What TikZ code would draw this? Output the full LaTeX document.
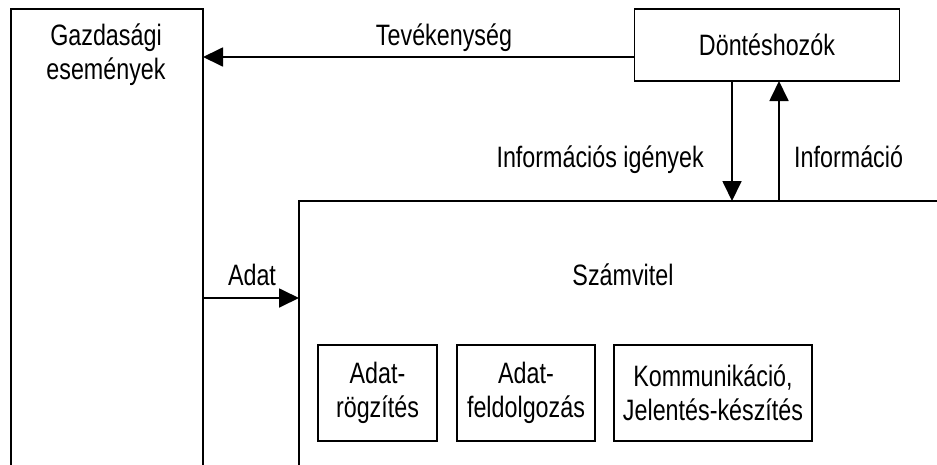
\documentclass[tikz,border=0pt]{standalone}
\usepackage{fontspec}
\setmainfont[FakeStretch=0.79]{Liberation Sans}
\usetikzlibrary{arrows.meta,calc}
\begin{document}
\begin{tikzpicture}[x=1pt,y=-1pt,
  edge/.style={line width=1.8pt,line cap=rect},
  conn/.style={line width=1.8pt,-{Triangle[length=20pt,width=19pt]}},
  boxnode/.style={draw,line width=1.8pt,inner sep=0pt,align=center},
  txt/.style={font=\fontsize{29.5}{34}\selectfont,align=center,inner sep=0pt}]
\useasboundingbox (0,0) rectangle (937,464);
% left open box (Gazdasagi esemenyek)
\coordinate (gBL) at (11,470);
\coordinate (gTL) at (11,9);
\coordinate (gTR) at (203,9);
\coordinate (gBR) at (203,470);
\draw[edge] (gBL) -- (gTL) -- (gTR) -- (gBR);
\node[txt] (gaz) at (106,55) {Gazdasági\\események};
% Szamvitel open box
\coordinate (sBL) at (299,470);
\coordinate (sTL) at (299,201);
\coordinate (sTR) at (945,201);
\draw[edge] (sBL) -- (sTL) -- (sTR);
\node[txt] (szam) at (623,275) {Számvitel};
% Dontéshozók
\node[boxnode,minimum width=265pt,minimum height=72pt] (dont) at (767,45) {};
\node[txt] (donttxt) at (dont) {Döntéshozók};
% Tevekenyseg arrow
\coordinate (tevEnd) at (203,57);
\draw[conn] (dont.west |- tevEnd) -- (tevEnd);
\node[txt,anchor=base] (tevlbl) at (444,45) {Tevékenység};
% down/up arrows
\coordinate (igTop) at (732,81);
\coordinate (igBot) at (732,201);
\coordinate (infBot) at (779,201);
\coordinate (infTop) at (779,81);
\draw[conn] (igTop) -- (igBot);
\draw[conn] (infBot) -- (infTop);
\node[txt,anchor=base east] (iglbl) at (704,167) {Információs igények};
\node[txt,anchor=base west] (inflbl) at (794,167) {Információ};
% Adat arrow
\coordinate (adStart) at (203,298);
\coordinate (adEnd) at (299,298);
\draw[conn] (adStart) -- (adEnd);
\node[txt,anchor=base] (adlbl) at (252,285) {Adat};
% inner boxes
\node[boxnode,minimum width=119pt,minimum height=96pt] (b1) at (377.5,393) {};
\node[txt] (b1t) at (b1) {Adat-\\rögzítés};
\node[boxnode,minimum width=138pt,minimum height=96pt] (b2) at (526,393) {};
\node[txt] (b2t) at (b2) {Adat-\\feldolgozás};
\node[boxnode,minimum width=198pt,minimum height=96pt] (b3) at (713,393) {};
\node[txt] (b3t) at (b3) {Kommunikáció,\\Jelentés-készítés};
\end{tikzpicture}
\end{document}
